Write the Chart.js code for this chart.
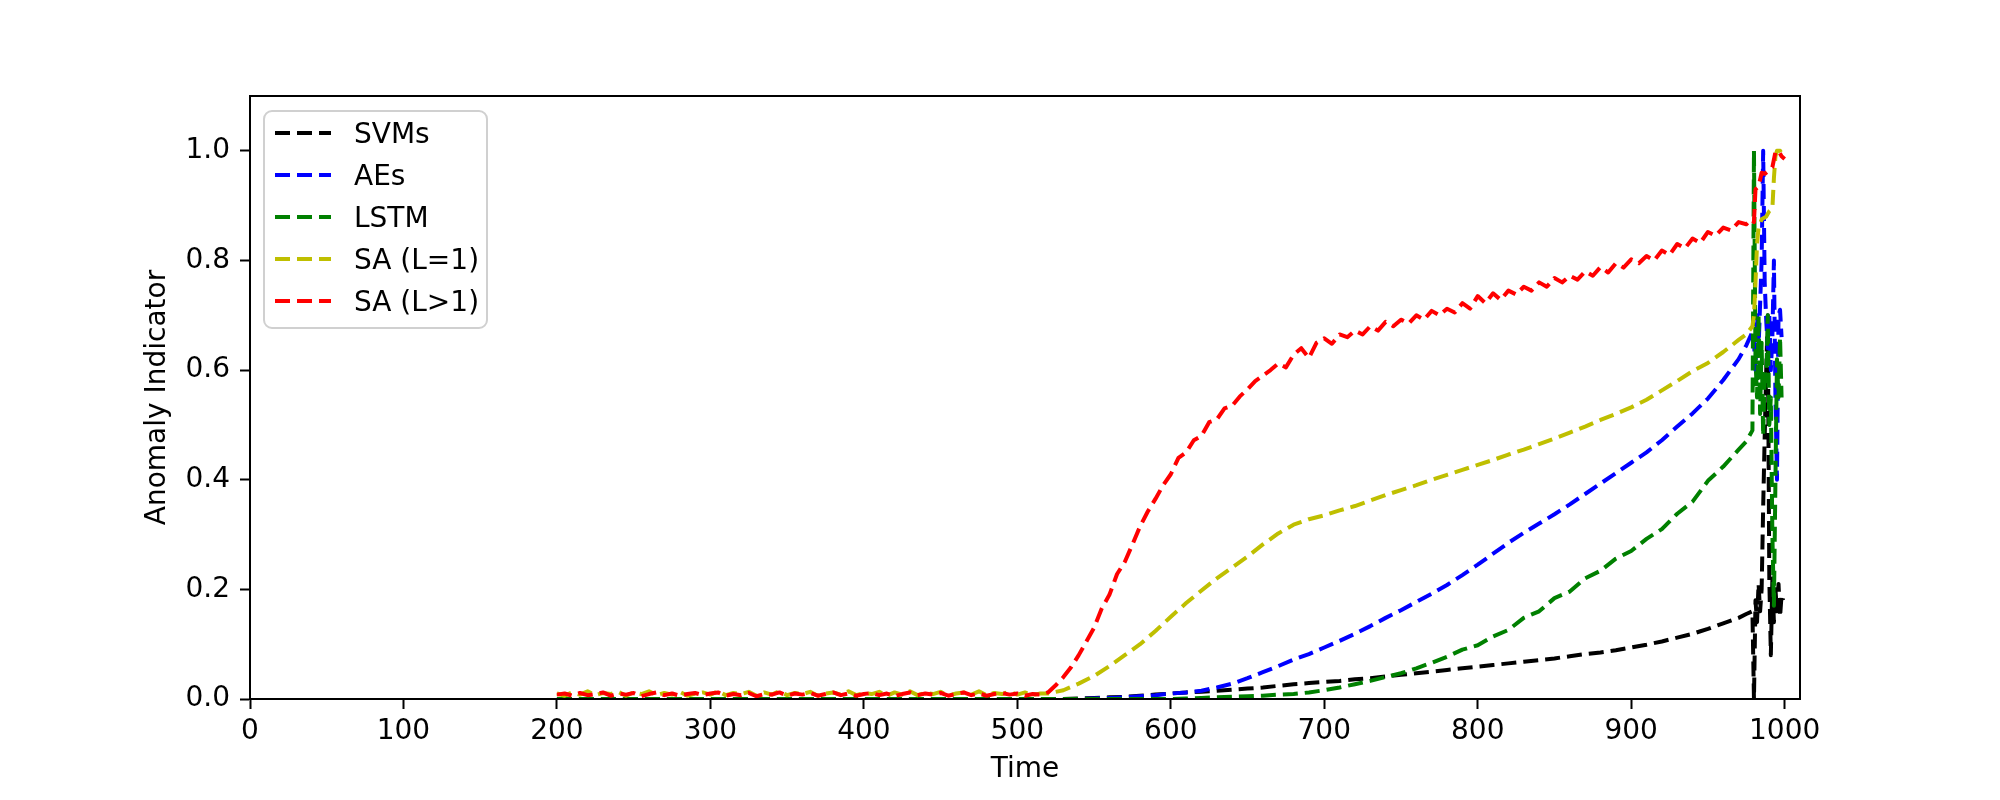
<!DOCTYPE html>
<html>
<head>
<meta charset="utf-8">
<script src="https://cdn.jsdelivr.net/npm/chart.js@4.4.0/dist/chart.umd.min.js"></script>
<style>
  html, body { margin: 0; padding: 0; background: #fff; }
  #wrap { width: 2000px; height: 800px; }
</style>
</head>
<body>
<div id="wrap"><canvas id="chart" width="2000" height="800"></canvas></div>
<script>
// time grids (sampling positions on the x axis)
function grid(start, step, count) {
    const out = [];
    for (let i = 0; i < count; i++) out.push(start + i * step);
    return out;
}
const flatTime = grid(200, 5, 64);          // 200 .. 515
const redRiseTime = grid(520, 5, 92);       // 520 .. 975
const midTime = grid(520, 10, 46).concat([975, 979]);

// SA (L>1)
const redFlat = [0.008, 0.010, 0.006, 0.011, 0.007, 0.009, 0.012, 0.006, 0.010, 0.008, 0.011, 0.005, 0.009, 0.012, 0.007, 0.010,
    0.006, 0.009, 0.011, 0.007, 0.010, 0.012, 0.006, 0.009, 0.007, 0.011, 0.005, 0.009, 0.008, 0.012, 0.006, 0.010,
    0.008, 0.011, 0.006, 0.009, 0.012, 0.007, 0.010, 0.006, 0.009, 0.011, 0.007, 0.010, 0.005, 0.009, 0.012, 0.007,
    0.010, 0.008, 0.011, 0.006, 0.009, 0.012, 0.007, 0.010, 0.006, 0.009, 0.011, 0.008, 0.010, 0.006, 0.009, 0.008];
const redRise = [0.012, 0.025, 0.040, 0.058, 0.080, 0.105, 0.130, 0.165, 0.190, 0.228, 0.250, 0.282, 0.315, 0.342, 0.365, 0.390, 0.410, 0.440, 0.450, 0.472,
    0.480, 0.505, 0.510, 0.530, 0.535, 0.552, 0.565, 0.580, 0.590, 0.600, 0.612, 0.605, 0.628, 0.640, 0.622, 0.650, 0.658, 0.648, 0.665, 0.660,
    0.672, 0.665, 0.680, 0.672, 0.688, 0.680, 0.692, 0.685, 0.700, 0.692, 0.708, 0.700, 0.712, 0.705, 0.722, 0.712, 0.735, 0.722, 0.740, 0.728,
    0.745, 0.738, 0.752, 0.745, 0.760, 0.752, 0.768, 0.760, 0.772, 0.765, 0.780, 0.772, 0.788, 0.778, 0.795, 0.787, 0.802, 0.795, 0.808, 0.800,
    0.818, 0.810, 0.830, 0.822, 0.840, 0.832, 0.852, 0.845, 0.860, 0.855, 0.870, 0.866];
const redEndTime = [978, 980, 981, 983, 985, 987, 990, 992, 994, 996, 998, 1000];
const redEnd = [0.875, 0.870, 0.930, 0.935, 0.960, 0.958, 0.965, 0.970, 0.998, 1.000, 0.990, 0.985];

// SA (L=1)
const yellowFlat = [0.010, 0.006, 0.012, 0.008, 0.014, 0.007, 0.011, 0.009, 0.013, 0.006, 0.012, 0.009, 0.014, 0.007, 0.011, 0.008,
    0.013, 0.006, 0.010, 0.012, 0.008, 0.014, 0.007, 0.011, 0.009, 0.013, 0.006, 0.012, 0.008, 0.014, 0.007, 0.011,
    0.009, 0.013, 0.006, 0.010, 0.012, 0.008, 0.014, 0.007, 0.011, 0.009, 0.013, 0.006, 0.012, 0.008, 0.014, 0.007,
    0.011, 0.009, 0.013, 0.006, 0.010, 0.012, 0.008, 0.014, 0.007, 0.011, 0.009, 0.013, 0.008, 0.012, 0.007, 0.010];
const yellowMid = [0.010, 0.016, 0.028, 0.042, 0.060, 0.080, 0.100, 0.124, 0.150, 0.175,
    0.198, 0.220, 0.240, 0.260, 0.282, 0.302, 0.318, 0.328, 0.335, 0.344,
    0.352, 0.362, 0.372, 0.381, 0.390, 0.400, 0.409, 0.418, 0.427, 0.436,
    0.446, 0.455, 0.465, 0.475, 0.486, 0.497, 0.509, 0.520, 0.532, 0.546,
    0.563, 0.580, 0.598, 0.613, 0.633, 0.655, 0.665, 0.680];
const yellowEndTime = [980, 981, 982, 983, 985, 988, 990, 992, 993, 994, 995, 997, 999];
const yellowEnd = [0.700, 0.760, 0.830, 0.860, 0.875, 0.880, 0.890, 0.895, 0.950, 0.990, 1.000, 1.000, 0.990];

// AEs
const blueMid = [0.000, 0.000, 0.000, 0.001, 0.002, 0.003, 0.005, 0.007, 0.010, 0.012,
    0.015, 0.021, 0.028, 0.038, 0.049, 0.060, 0.072, 0.082, 0.094, 0.106,
    0.119, 0.133, 0.148, 0.162, 0.177, 0.192, 0.208, 0.226, 0.245, 0.265,
    0.285, 0.303, 0.320, 0.337, 0.355, 0.374, 0.393, 0.412, 0.431, 0.450,
    0.472, 0.497, 0.521, 0.548, 0.582, 0.620, 0.645, 0.670];
const endTime = [980, 981, 982, 983, 984, 985, 986, 987, 988, 989, 990, 991, 992, 993, 994, 995, 996, 997, 998];
const blueEnd = [0.650, 0.600, 0.700, 0.640, 0.720, 0.800, 1.000, 0.760, 0.690, 0.640, 0.700, 0.600, 0.660, 0.800, 0.550, 0.400, 0.700, 0.710, 0.660];

// LSTM
const greenMid = [0.000, 0.000, 0.000, 0.000, 0.000, 0.000, 0.000, 0.000, 0.000, 0.001,
    0.002, 0.003, 0.004, 0.005, 0.006, 0.008, 0.009, 0.012, 0.016, 0.021,
    0.027, 0.033, 0.040, 0.047, 0.056, 0.066, 0.077, 0.090, 0.098, 0.114,
    0.126, 0.148, 0.160, 0.184, 0.196, 0.220, 0.234, 0.256, 0.270, 0.292,
    0.310, 0.338, 0.360, 0.398, 0.424, 0.455, 0.470, 0.490];
const greenEnd = [1.000, 0.620, 0.550, 0.700, 0.520, 0.650, 0.480, 0.600, 0.580, 0.700, 0.500, 0.550, 0.300, 0.170, 0.400, 0.620, 0.550, 0.660, 0.550];

// SVMs
const blackMid = [0.000, 0.000, 0.001, 0.002, 0.003, 0.004, 0.006, 0.008, 0.010, 0.012,
    0.013, 0.015, 0.017, 0.019, 0.021, 0.024, 0.027, 0.029, 0.031, 0.033,
    0.036, 0.038, 0.041, 0.044, 0.047, 0.050, 0.053, 0.056, 0.059, 0.062,
    0.065, 0.068, 0.071, 0.074, 0.078, 0.082, 0.085, 0.089, 0.094, 0.099,
    0.105, 0.112, 0.119, 0.128, 0.138, 0.148, 0.155, 0.160];
const blackEndTime = endTime.concat([999]);
const blackEnd = [0.000, 0.180, 0.140, 0.210, 0.160, 0.200, 0.350, 0.480, 0.600, 0.700, 0.220, 0.080, 0.220, 0.140, 0.200, 0.160, 0.210, 0.150, 0.190, 0.180];

const labels = ['SVMs', 'AEs', 'LSTM', 'SA (L=1)', 'SA (L>1)'];
const colors = ['#000000', '#0000ff', '#008000', '#bfbf00', '#ff0000'];
const xTicks = [0, 100, 200, 300, 400, 500, 600, 700, 800, 900, 1000];
const yTicks = [0, 0.2, 0.4, 0.6, 0.8, 1.0];

function points(times, values) {
    return times.map((t, i) => ({ x: t, y: values[i] }));
}

const seriesData = [
    points([200].concat(midTime, blackEndTime), [0].concat(blackMid, blackEnd)),
    points([200].concat(midTime, endTime), [0].concat(blueMid, blueEnd)),
    points([200].concat(midTime, endTime), [0].concat(greenMid, greenEnd)),
    points(flatTime.concat(midTime, yellowEndTime), yellowFlat.concat(yellowMid, yellowEnd)),
    points(flatTime.concat(redRiseTime, redEndTime), redFlat.concat(redRise, redEnd)),
];

const DASH = [15, 7];
const font = { family: 'DejaVu Sans', size: 28 };

// matplotlib-like frame and legend box inside the axes
const framePlugin = {
    id: 'frame',
    afterDatasetsDraw(chart) {
        const { ctx, chartArea: a } = chart;
        ctx.save();
        ctx.strokeStyle = '#000';
        ctx.lineWidth = 2;
        ctx.strokeRect(a.left, a.top, a.right - a.left, a.bottom - a.top);

        const bx = a.left + 14, by = a.top + 15, bw = 223, bh = 217, r = 8;
        ctx.beginPath();
        ctx.moveTo(bx + r, by);
        ctx.arcTo(bx + bw, by, bx + bw, by + bh, r);
        ctx.arcTo(bx + bw, by + bh, bx, by + bh, r);
        ctx.arcTo(bx, by + bh, bx, by, r);
        ctx.arcTo(bx, by, bx + bw, by, r);
        ctx.closePath();
        ctx.fillStyle = 'rgba(255,255,255,0.8)';
        ctx.fill();
        ctx.strokeStyle = '#d0d0d0';
        ctx.lineWidth = 2;
        ctx.stroke();

        ctx.font = `${font.size}px ${font.family}`;
        ctx.textBaseline = 'alphabetic';
        chart.data.datasets.forEach((ds, i) => {
            const y = by + 22 + i * 42;
            ctx.beginPath();
            ctx.setLineDash(DASH);
            ctx.strokeStyle = ds.borderColor;
            ctx.lineWidth = 4;
            ctx.moveTo(bx + 11, y);
            ctx.lineTo(bx + 67, y);
            ctx.stroke();
            ctx.setLineDash([]);
            ctx.fillStyle = '#000';
            ctx.fillText(ds.label, bx + 90, y + 10);
        });
        ctx.restore();
    },
};

new Chart(document.getElementById('chart'), {
    type: 'line',
    data: {
        datasets: seriesData.map((data, i) => ({
            label: labels[i],
            data,
            borderColor: colors[i],
            borderWidth: 4,
            borderDash: DASH,
            borderJoinStyle: 'round',
            pointRadius: 0,
            fill: false,
            tension: 0,
            order: 5 - i,
        })),
    },
    options: {
        responsive: false,
        animation: false,
        devicePixelRatio: 1,
        layout: { padding: { left: 0, right: 200, top: 96, bottom: 0 } },
        plugins: { legend: { display: false }, tooltip: { enabled: false } },
        scales: {
            x: {
                type: 'linear',
                min: 0,
                max: 1010,
                afterFit: (s) => { s.height = 101; },
                afterBuildTicks: (s) => { s.ticks = xTicks.map((v) => ({ value: v })); },
                ticks: { maxRotation: 0, font, color: '#000', padding: 6,
                    callback: (v) => String(v) },
                grid: { drawOnChartArea: false, drawTicks: true, tickLength: 10, tickColor: '#000', tickWidth: 2 },
                border: { display: true, color: '#000', width: 2 },
                title: { display: true, text: 'Time', font, color: '#000', padding: { top: 0, bottom: 13 } },
            },
            y: {
                type: 'linear',
                min: 0,
                max: 1.1,
                afterFit: (s) => { s.width = 250; },
                afterBuildTicks: (s) => { s.ticks = yTicks.map((v) => ({ value: v })); },
                ticks: { font, color: '#000', padding: 10,
                    callback: (v) => Number(v).toFixed(1) },
                grid: { drawOnChartArea: false, drawTicks: true, tickLength: 10, tickColor: '#000', tickWidth: 2 },
                border: { display: true, color: '#000', width: 2 },
                title: { display: true, text: 'Anomaly Indicator', font, color: '#000', padding: { top: 141, bottom: 0 } },
            },
        },
    },
    plugins: [framePlugin],
});
</script>
</body>
</html>
